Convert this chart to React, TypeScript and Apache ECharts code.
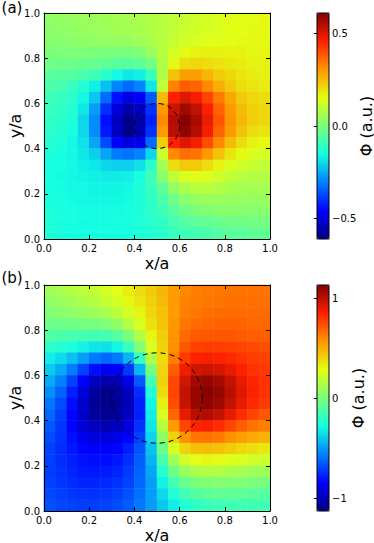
import React, { useEffect, useRef } from 'react';
import * as echarts from 'echarts';

// cell centres (x/a and y/a), 20 x 20 grid
const X_CENTERS = ['0.025','0.075','0.125','0.175','0.225','0.275','0.325','0.375','0.425','0.475','0.525','0.575','0.625','0.675','0.725','0.775','0.825','0.875','0.925','0.975'];
const Y_CENTERS = X_CENTERS;
const AXIS_MIN = 0;
const AXIS_MAX = 1;
const AXIS_STEP = 0.2;

// panel (a): rows from top (y/a = 0.975) to bottom (y/a = 0.025)
const PHI_A: number[][] = [
  [0.03,0.035,0.04,0.045,0.05,0.055,0.06,0.065,0.07,0.08,0.09,0.10,0.11,0.12,0.13,0.14,0.145,0.15,0.155,0.16],
  [0.025,0.03,0.035,0.04,0.045,0.05,0.055,0.06,0.065,0.075,0.09,0.10,0.115,0.125,0.135,0.14,0.15,0.155,0.16,0.16],
  [0.015,0.02,0.025,0.03,0.035,0.04,0.04,0.045,0.055,0.07,0.09,0.11,0.125,0.135,0.145,0.15,0.155,0.16,0.16,0.16],
  [0.0,0.005,0.005,0.005,0.0,0.0,-0.005,-0.005,0.01,0.04,0.09,0.13,0.16,0.17,0.175,0.175,0.17,0.17,0.165,0.165],
  [-0.02,-0.02,-0.02,-0.025,-0.03,-0.04,-0.05,-0.055,-0.045,-0.01,0.08,0.16,0.2,0.21,0.2,0.195,0.185,0.18,0.17,0.17],
  [-0.05,-0.055,-0.06,-0.07,-0.09,-0.12,-0.16,-0.18,-0.17,-0.1,0.08,0.24,0.29,0.29,0.26,0.23,0.21,0.19,0.18,0.175],
  [-0.07,-0.08,-0.1,-0.13,-0.17,-0.23,-0.3,-0.33,-0.3,-0.18,0.1,0.33,0.38,0.37,0.32,0.27,0.23,0.2,0.19,0.18],
  [-0.09,-0.1,-0.12,-0.16,-0.22,-0.33,-0.44,-0.49,-0.47,-0.35,0.25,0.46,0.5,0.47,0.41,0.34,0.28,0.23,0.21,0.2],
  [-0.1,-0.11,-0.13,-0.18,-0.27,-0.4,-0.5,-0.56,-0.53,-0.4,0.3,0.52,0.57,0.53,0.46,0.37,0.3,0.25,0.22,0.21],
  [-0.11,-0.12,-0.14,-0.2,-0.29,-0.44,-0.53,-0.6,-0.56,-0.42,0.32,0.55,0.6,0.56,0.48,0.39,0.31,0.26,0.22,0.21],
  [-0.12,-0.13,-0.15,-0.2,-0.29,-0.43,-0.53,-0.6,-0.55,-0.4,0.3,0.54,0.59,0.55,0.47,0.37,0.3,0.24,0.2,0.19],
  [-0.13,-0.14,-0.16,-0.19,-0.26,-0.37,-0.46,-0.5,-0.47,-0.33,0.22,0.46,0.5,0.47,0.4,0.32,0.25,0.2,0.17,0.16],
  [-0.14,-0.15,-0.16,-0.18,-0.21,-0.26,-0.31,-0.32,-0.3,-0.2,0.12,0.32,0.36,0.35,0.3,0.24,0.19,0.16,0.14,0.13],
  [-0.15,-0.15,-0.16,-0.17,-0.18,-0.2,-0.21,-0.21,-0.19,-0.12,0.06,0.2,0.23,0.23,0.2,0.17,0.14,0.12,0.11,0.1],
  [-0.15,-0.155,-0.16,-0.165,-0.17,-0.175,-0.175,-0.17,-0.15,-0.09,0.02,0.1,0.14,0.15,0.14,0.12,0.1,0.09,0.08,0.08],
  [-0.15,-0.155,-0.16,-0.16,-0.165,-0.165,-0.165,-0.16,-0.14,-0.1,-0.04,0.03,0.07,0.09,0.09,0.08,0.07,0.06,0.06,0.06],
  [-0.145,-0.15,-0.155,-0.16,-0.16,-0.16,-0.16,-0.155,-0.14,-0.11,-0.07,-0.02,0.02,0.04,0.05,0.05,0.04,0.04,0.04,0.04],
  [-0.14,-0.145,-0.15,-0.155,-0.155,-0.155,-0.155,-0.15,-0.14,-0.12,-0.09,-0.05,-0.02,0.0,0.01,0.02,0.02,0.02,0.02,0.02],
  [-0.14,-0.145,-0.15,-0.155,-0.155,-0.155,-0.15,-0.145,-0.14,-0.125,-0.11,-0.08,-0.06,-0.045,-0.035,-0.025,-0.02,-0.015,-0.01,-0.01],
  [-0.14,-0.145,-0.15,-0.15,-0.15,-0.15,-0.15,-0.145,-0.14,-0.13,-0.12,-0.1,-0.09,-0.08,-0.07,-0.06,-0.05,-0.05,-0.04,-0.04],
];

// panel (b): rows from top (y/a = 0.975) to bottom (y/a = 0.025)
const PHI_B: number[][] = [
  [0.1,0.12,0.15,0.18,0.2,0.24,0.28,0.33,0.37,0.42,0.48,0.55,0.6,0.62,0.63,0.64,0.65,0.65,0.65,0.65],
  [0.06,0.08,0.1,0.13,0.16,0.2,0.24,0.3,0.35,0.41,0.47,0.55,0.61,0.63,0.64,0.65,0.66,0.66,0.66,0.66],
  [0.02,0.03,0.05,0.07,0.09,0.12,0.17,0.24,0.31,0.39,0.45,0.55,0.62,0.64,0.66,0.67,0.67,0.67,0.67,0.67],
  [-0.04,-0.04,-0.03,-0.02,-0.01,0.01,0.06,0.15,0.25,0.36,0.44,0.56,0.64,0.67,0.68,0.69,0.69,0.69,0.68,0.68],
  [-0.12,-0.13,-0.14,-0.15,-0.16,-0.15,-0.1,0.0,0.15,0.31,0.42,0.57,0.67,0.71,0.72,0.72,0.72,0.71,0.7,0.7],
  [-0.22,-0.24,-0.27,-0.31,-0.34,-0.35,-0.3,-0.18,0.02,0.25,0.4,0.58,0.72,0.77,0.78,0.78,0.77,0.76,0.75,0.74],
  [-0.32,-0.36,-0.42,-0.5,-0.58,-0.62,-0.58,-0.45,-0.2,0.14,0.38,0.62,0.79,0.85,0.86,0.85,0.83,0.8,0.78,0.77],
  [-0.4,-0.47,-0.57,-0.7,-0.82,-0.88,-0.85,-0.72,-0.45,0.0,0.4,0.7,0.88,0.95,0.96,0.94,0.9,0.85,0.81,0.79],
  [-0.47,-0.56,-0.7,-0.85,-0.98,-1.03,-1.0,-0.9,-0.65,-0.15,0.4,0.75,0.95,1.05,1.08,1.05,0.98,0.9,0.84,0.81],
  [-0.53,-0.63,-0.78,-0.93,-1.06,-1.1,-1.07,-0.98,-0.75,-0.25,0.38,0.76,0.98,1.08,1.11,1.08,1.0,0.92,0.85,0.81],
  [-0.58,-0.68,-0.82,-0.97,-1.08,-1.11,-1.08,-1.0,-0.78,-0.3,0.32,0.74,0.97,1.07,1.1,1.06,0.98,0.9,0.83,0.79],
  [-0.62,-0.71,-0.84,-0.97,-1.06,-1.09,-1.06,-0.98,-0.78,-0.32,0.25,0.68,0.9,1.0,1.02,0.98,0.9,0.82,0.76,0.72],
  [-0.65,-0.73,-0.84,-0.94,-1.0,-1.02,-0.99,-0.92,-0.74,-0.34,0.16,0.55,0.76,0.84,0.86,0.82,0.76,0.7,0.65,0.62],
  [-0.68,-0.74,-0.82,-0.88,-0.92,-0.93,-0.9,-0.84,-0.7,-0.38,0.06,0.4,0.57,0.64,0.65,0.63,0.58,0.54,0.51,0.49],
  [-0.7,-0.75,-0.8,-0.84,-0.86,-0.86,-0.84,-0.78,-0.66,-0.42,-0.04,0.25,0.4,0.45,0.46,0.45,0.42,0.39,0.37,0.35],
  [-0.71,-0.75,-0.78,-0.81,-0.82,-0.82,-0.8,-0.75,-0.64,-0.45,-0.14,0.1,0.23,0.28,0.3,0.29,0.27,0.25,0.23,0.22],
  [-0.71,-0.74,-0.77,-0.79,-0.8,-0.79,-0.77,-0.72,-0.63,-0.48,-0.23,-0.03,0.08,0.13,0.15,0.15,0.13,0.12,0.1,0.09],
  [-0.7,-0.73,-0.75,-0.77,-0.77,-0.76,-0.74,-0.7,-0.62,-0.5,-0.31,-0.15,-0.05,0.0,0.02,0.03,0.02,0.01,0.0,-0.01],
  [-0.69,-0.71,-0.73,-0.74,-0.74,-0.73,-0.71,-0.67,-0.6,-0.5,-0.37,-0.25,-0.16,-0.11,-0.08,-0.07,-0.07,-0.08,-0.09,-0.1],
  [-0.67,-0.69,-0.7,-0.71,-0.71,-0.7,-0.68,-0.64,-0.58,-0.5,-0.41,-0.32,-0.25,-0.21,-0.18,-0.17,-0.16,-0.16,-0.16,-0.16],
];

const RANGE_A = [-0.61, 0.61];
const RANGE_B = [-1.13, 1.13];
const CBAR_TICKS_A = [-0.5, 0, 0.5];
const CBAR_TICKS_B = [-1, 0, 1];
const CIRCLE_A = [0.5, 0.5, 0.1]; // centre x, centre y, radius
const CIRCLE_B = [0.5, 0.5, 0.2];
const JET = ['#000080', '#0000ff', '#0080ff', '#14ffe2', '#7aff7a', '#e3ff14', '#ff9600', '#ff2100', '#800000'];

const FONT = 'DejaVu Sans';

function toCells(rows: number[][]) {
  const out: number[][] = [];
  const n = rows.length;
  rows.forEach((row, r) => row.forEach((v, c) => out.push([c, n - 1 - r, v])));
  return out;
}

const minusFmt = (dec: number) => (v: number) => (v < 0 ? '\u2212' : '') + Math.abs(v).toFixed(dec);

export default function App() {
  const ref = useRef<HTMLDivElement>(null);
  useEffect(() => {
    document.body.style.margin = '0';
    if (!ref.current) return;
    const chart = echarts.init(ref.current, undefined, { renderer: 'svg' });

    const panels = [
      { top: 13, height: 226, rows: PHI_A, range: RANGE_A, circle: CIRCLE_A, cticks: CBAR_TICKS_A, dec: 1 },
      { top: 285, height: 226, rows: PHI_B, range: RANGE_B, circle: CIRCLE_B, cticks: CBAR_TICKS_B, dec: 0 },
    ];

    const grid: any[] = [];
    const xAxis: any[] = [];
    const yAxis: any[] = [];
    const series: any[] = [];
    const visualMap: any[] = [];

    const axLine = { show: true, onZero: false, lineStyle: { color: '#000', width: 1 } };
    const axTick = { show: true, inside: true, length: 4, lineStyle: { color: '#000', width: 1 } };
    const axLabel = { fontSize: 10, color: '#000', fontFamily: FONT, formatter: (v: number) => v.toFixed(1) };

    panels.forEach((p) => {
      grid.push({ left: 44, top: p.top, width: 226, height: p.height });
    });
    panels.forEach((p) => {
      grid.push({ left: 317, top: p.top, width: 12, height: p.height, show: true, borderColor: '#000', borderWidth: 1, backgroundColor: 'transparent', z: 10 });
    });

    panels.forEach((p, i) => {
      const g = i;
      const base = xAxis.length;
      xAxis.push({ type: 'category', gridIndex: g, data: X_CENTERS, show: false });
      xAxis.push({ type: 'value', gridIndex: g, position: 'bottom', min: AXIS_MIN, max: AXIS_MAX, interval: AXIS_STEP, axisLine: axLine, axisTick: axTick, axisLabel: { ...axLabel, margin: 4 }, splitLine: { show: false }, z: 5 });
      xAxis.push({ type: 'value', gridIndex: g, position: 'top', min: AXIS_MIN, max: AXIS_MAX, interval: AXIS_STEP, axisLine: axLine, axisTick: axTick, axisLabel: { show: false }, splitLine: { show: false }, z: 5 });
      yAxis.push({ type: 'category', gridIndex: g, data: Y_CENTERS, show: false });
      yAxis.push({ type: 'value', gridIndex: g, position: 'left', min: AXIS_MIN, max: AXIS_MAX, interval: AXIS_STEP, axisLine: axLine, axisTick: axTick, axisLabel: { ...axLabel, margin: 4 }, splitLine: { show: false }, z: 5 });
      yAxis.push({ type: 'value', gridIndex: g, position: 'right', min: AXIS_MIN, max: AXIS_MAX, interval: AXIS_STEP, axisLine: axLine, axisTick: axTick, axisLabel: { show: false }, splitLine: { show: false }, z: 5 });

      visualMap.push({
        type: 'continuous', seriesIndex: series.length, min: p.range[0], max: p.range[1],
        inRange: { color: JET }, left: 317, top: p.top, itemWidth: 12, itemHeight: p.height,
        padding: 0, calculable: false, hoverLink: false, show: true, showLabel: false,
      });
      series.push({
        type: 'heatmap', xAxisIndex: base, yAxisIndex: base, data: toCells(p.rows),
        itemStyle: { borderWidth: 0 }, emphasis: { disabled: true }, progressive: 0, z: 2,
      });
      series.push({
        type: 'custom', xAxisIndex: base + 1, yAxisIndex: base + 1, data: [p.circle], z: 3, silent: true,
        renderItem: (_params: any, api: any) => {
          const c = api.coord([api.value(0), api.value(1)]);
          const r = api.size([api.value(2), 0])[0];
          return { type: 'circle', shape: { cx: c[0], cy: c[1], r }, style: { fill: 'none', stroke: '#000', lineWidth: 1, lineDash: [5, 4] } };
        },
      });
    });

    panels.forEach((p, i) => {
      const g = 2 + i;
      xAxis.push({ type: 'value', gridIndex: g, show: false, min: 0, max: 1 });
      yAxis.push({
        type: 'value', gridIndex: g, position: 'right', min: p.range[0], max: p.range[1],
        axisLine: { show: false }, splitLine: { show: false },
        axisTick: { show: true, inside: true, length: 3, lineStyle: { color: '#000' }, customValues: p.cticks },
        axisLabel: { fontSize: 10, color: '#000', fontFamily: FONT, margin: 3, customValues: p.cticks, formatter: minusFmt(p.dec) },
        z: 11,
      });
    });

    const txt = (text: string, x: number, y: number, size: number, rot = 0) => ({
      type: 'text', x, y, rotation: rot, z: 20,
      style: { text, fontSize: size, fontFamily: FONT, fill: '#000', textAlign: 'center', textVerticalAlign: 'middle' },
    });

    chart.setOption({
      animation: false,
      backgroundColor: '#fff',
      grid, xAxis, yAxis, series, visualMap,
      graphic: [
        txt('(a)', 12, 8, 15),
        txt('(b)', 12, 278, 15),
        txt('x/a', 157, 263, 16),
        txt('x/a', 157, 535, 16),
        txt('y/a', 15, 126, 16, Math.PI / 2),
        txt('y/a', 15, 398, 16, Math.PI / 2),
        txt('\u03A6 (a.u.)', 366, 126, 16, Math.PI / 2),
        txt('\u03A6 (a.u.)', 358, 398, 16, Math.PI / 2),
      ],
    });
    return () => chart.dispose();
  }, []);
  return <div ref={ref} style={{ width: 374, height: 543 }} />;
}
